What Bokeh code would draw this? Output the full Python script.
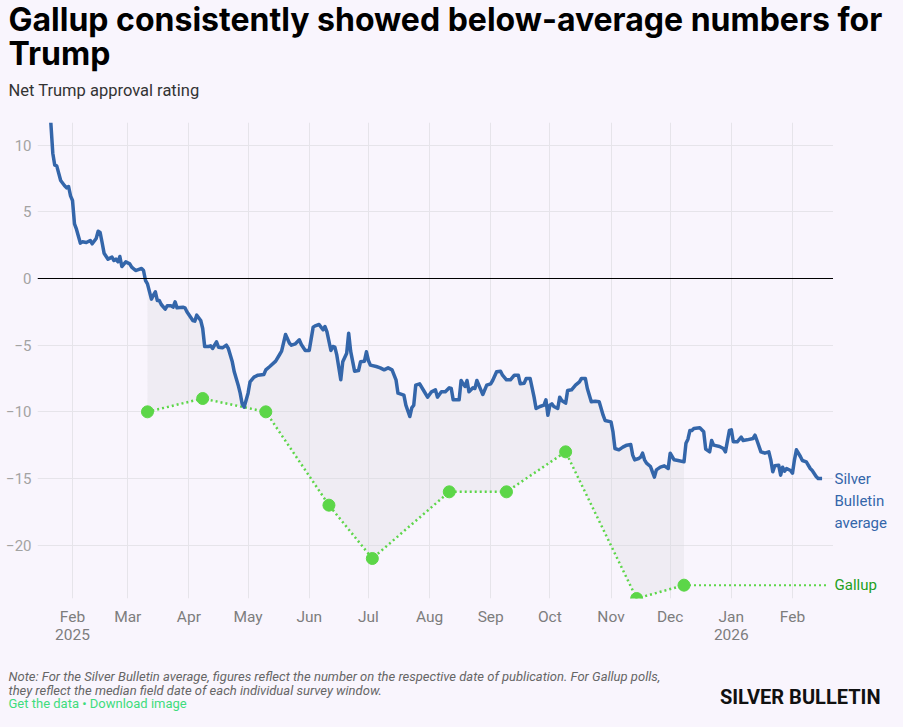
import numpy as np
import pandas as pd
from bokeh.plotting import figure
from bokeh.layouts import column, row
from bokeh.models import Range1d, FixedTicker, Span
from bokeh.core.properties import value
from bokeh.embed import file_html
from bokeh.resources import INLINE

# ---------------- text ----------------
title_lines = ["Gallup consistently showed below-average numbers for", "Trump"]
subtitle = "Net Trump approval rating"
note_lines = [
    "Note: For the Silver Bulletin average, figures reflect the number on the respective date of publication. For Gallup polls,",
    "they reflect the median field date of each individual survey window.",
]
links_text = "Get the data \u2022 Download image"
logo_text = "SILVER BULLETIN"
sb_label_lines = ["Silver", "Bulletin", "average"]
gallup_label = "Gallup"

# ---------------- data ----------------
sb_dates = [
    "2025-01-21", "2025-01-22", "2025-01-23", "2025-01-24", "2025-01-26", "2025-01-28", "2025-01-29",
    "2025-01-30", "2025-01-31", "2025-02-01", "2025-02-02", "2025-02-03", "2025-02-05", "2025-02-06",
    "2025-02-08", "2025-02-10", "2025-02-11", "2025-02-13", "2025-02-14", "2025-02-15", "2025-02-16",
    "2025-02-17", "2025-02-19", "2025-02-21", "2025-02-22", "2025-02-23", "2025-02-24", "2025-02-25",
    "2025-02-26", "2025-02-28", "2025-03-02", "2025-03-03", "2025-03-05", "2025-03-06", "2025-03-08",
    "2025-03-09", "2025-03-10", "2025-03-11", "2025-03-13", "2025-03-14", "2025-03-15", "2025-03-16",
    "2025-03-17", "2025-03-18", "2025-03-20", "2025-03-21", "2025-03-23", "2025-03-24", "2025-03-25",
    "2025-03-26", "2025-03-29", "2025-03-30", "2025-03-31", "2025-04-03", "2025-04-04", "2025-04-05",
    "2025-04-07", "2025-04-08", "2025-04-09", "2025-04-11", "2025-04-12", "2025-04-13", "2025-04-15",
    "2025-04-16", "2025-04-18", "2025-04-20", "2025-04-21", "2025-04-23", "2025-04-24", "2025-04-25",
    "2025-04-26", "2025-04-27", "2025-04-28", "2025-04-29", "2025-05-01", "2025-05-02", "2025-05-04",
    "2025-05-06", "2025-05-09", "2025-05-10", "2025-05-12", "2025-05-15", "2025-05-17", "2025-05-18",
    "2025-05-20", "2025-05-22", "2025-05-23", "2025-05-25", "2025-05-27", "2025-05-28", "2025-05-30",
    "2025-06-01", "2025-06-03", "2025-06-04", "2025-06-06", "2025-06-08", "2025-06-09", "2025-06-10",
    "2025-06-12", "2025-06-13", "2025-06-14", "2025-06-15", "2025-06-17", "2025-06-18", "2025-06-20",
    "2025-06-21", "2025-06-22", "2025-06-24", "2025-06-26", "2025-06-27", "2025-06-29", "2025-06-30",
    "2025-07-01", "2025-07-02", "2025-07-05", "2025-07-07", "2025-07-09", "2025-07-11", "2025-07-13",
    "2025-07-15", "2025-07-16", "2025-07-19", "2025-07-20", "2025-07-22", "2025-07-23", "2025-07-24",
    "2025-07-25", "2025-07-27", "2025-07-29", "2025-07-31", "2025-08-02", "2025-08-04", "2025-08-05",
    "2025-08-07", "2025-08-09", "2025-08-11", "2025-08-12", "2025-08-13", "2025-08-16", "2025-08-17",
    "2025-08-18", "2025-08-19", "2025-08-20", "2025-08-21", "2025-08-23", "2025-08-24", "2025-08-25",
    "2025-08-27", "2025-08-28", "2025-08-30", "2025-09-01", "2025-09-02", "2025-09-04", "2025-09-06",
    "2025-09-07", "2025-09-09", "2025-09-11", "2025-09-13", "2025-09-15", "2025-09-16", "2025-09-18",
    "2025-09-19", "2025-09-21", "2025-09-23", "2025-09-24", "2025-09-26", "2025-09-28", "2025-09-29",
    "2025-09-30", "2025-10-01", "2025-10-02", "2025-10-03", "2025-10-05", "2025-10-06", "2025-10-07",
    "2025-10-09", "2025-10-10", "2025-10-12", "2025-10-14", "2025-10-16", "2025-10-17", "2025-10-19",
    "2025-10-20", "2025-10-22", "2025-10-24", "2025-10-26", "2025-10-28", "2025-10-29", "2025-11-01",
    "2025-11-02", "2025-11-03", "2025-11-05", "2025-11-07", "2025-11-09", "2025-11-11", "2025-11-12",
    "2025-11-13", "2025-11-15", "2025-11-16", "2025-11-17", "2025-11-18", "2025-11-19", "2025-11-21",
    "2025-11-22", "2025-11-23", "2025-11-24", "2025-11-26", "2025-11-28", "2025-11-30", "2025-12-01",
    "2025-12-03", "2025-12-05", "2025-12-08", "2025-12-09", "2025-12-10", "2025-12-11", "2025-12-12",
    "2025-12-13", "2025-12-16", "2025-12-18", "2025-12-19", "2025-12-21", "2025-12-22", "2025-12-23",
    "2025-12-26", "2025-12-28", "2025-12-29", "2025-12-31", "2026-01-01", "2026-01-02", "2026-01-04",
    "2026-01-06", "2026-01-07", "2026-01-09", "2026-01-12", "2026-01-13", "2026-01-14", "2026-01-16",
    "2026-01-18", "2026-01-20", "2026-01-21", "2026-01-22", "2026-01-23", "2026-01-25", "2026-01-26",
    "2026-01-27", "2026-01-28", "2026-01-29", "2026-01-31", "2026-02-01", "2026-02-02", "2026-02-03",
    "2026-02-05", "2026-02-06", "2026-02-08", "2026-02-10", "2026-02-11", "2026-02-13", "2026-02-14",
    "2026-02-16",
]
sb_values = [
    11.7, 9.4, 8.5, 8.45, 7.35, 6.95, 6.8,
    6.9, 6.2, 5.85, 4.1, 3.7, 2.65, 2.75,
    2.7, 2.85, 2.6, 3.0, 3.55, 3.45, 2.7,
    1.9, 1.45, 1.6, 1.35, 1.45, 1.25, 1.65,
    0.9, 1.25, 1.1, 0.85, 0.6, 0.65, 0.75,
    0.6, -0.15, -0.4, -1.55, -1.25, -1.0, -1.65,
    -1.65, -1.95, -2.3, -2.05, -2.05, -2.15, -1.75,
    -2.2, -2.15, -2.2, -2.5, -3.15, -3.2, -2.75,
    -3.15, -3.75, -5.1, -5.1, -5.05, -5.25, -4.75,
    -5.15, -5.2, -5.0, -5.25, -6.25, -7.0, -7.5,
    -8.0, -8.6, -9.4, -9.65, -8.6, -7.75, -7.4,
    -7.25, -7.2, -6.85, -6.6, -6.2, -5.7, -5.45,
    -4.2, -4.85, -5.0, -4.9, -4.6, -4.95, -5.4,
    -5.4, -3.65, -3.55, -3.45, -3.85, -3.6, -4.0,
    -5.4, -5.1, -5.15, -5.75, -7.6, -6.25, -5.6,
    -4.1, -5.45, -6.95, -6.9, -6.25, -6.2, -5.5,
    -6.15, -6.5, -6.6, -6.7, -6.85, -6.7, -6.85,
    -7.6, -8.6, -8.75, -9.5, -10.35, -9.7, -9.5,
    -8.0, -7.9, -8.4, -8.9, -8.5, -8.35, -8.9,
    -8.5, -8.5, -8.2, -8.25, -9.1, -9.1, -7.65,
    -7.9, -8.1, -7.65, -8.5, -8.2, -8.25, -7.65,
    -8.35, -8.7, -8.0, -7.9, -7.65, -7.0, -6.95,
    -7.25, -7.6, -7.6, -7.25, -7.25, -7.9, -7.85,
    -7.5, -7.5, -8.9, -9.75, -9.6, -9.5, -9.1,
    -10.25, -9.5, -9.4, -9.6, -9.75, -8.9, -9.15,
    -9.35, -8.4, -8.35, -8.0, -7.75, -7.5, -7.5,
    -8.25, -9.25, -9.2, -9.25, -10.25, -10.65, -10.75,
    -11.5, -12.75, -12.85, -12.65, -12.5, -12.45, -13.25,
    -13.6, -13.5, -13.4, -13.1, -13.6, -13.85, -14.1,
    -14.5, -14.9, -14.35, -14.15, -14.05, -14.25, -13.1,
    -13.6, -13.65, -13.75, -12.35, -12.05, -11.4, -11.4,
    -11.25, -11.2, -11.5, -12.8, -13.0, -12.15, -12.5,
    -12.6, -12.75, -13.0, -11.4, -11.35, -12.25, -12.25,
    -11.9, -12.15, -12.1, -12.0, -11.75, -12.15, -13.0,
    -13.1, -13.0, -13.6, -14.5, -14.05, -14.0, -14.75,
    -14.15, -14.45, -14.25, -14.4, -14.6, -13.6, -12.85,
    -13.35, -13.65, -13.75, -14.25, -14.4, -14.85, -15.0,
    -15.0,
]
gallup_dates = ["2025-03-11", "2025-04-08", "2025-05-10", "2025-06-11", "2025-07-03",
                "2025-08-11", "2025-09-09", "2025-10-09", "2025-11-14", "2025-12-08"]
gallup_values = [-10, -9, -10, -17, -21, -16, -16, -13, -24, -23]
gallup_line_end = "2026-02-18"

month_ticks = ["2025-02-01", "2025-03-01", "2025-04-01", "2025-05-01", "2025-06-01", "2025-07-01",
               "2025-08-01", "2025-09-01", "2025-10-01", "2025-11-01", "2025-12-01", "2026-01-01",
               "2026-02-01"]
month_labels = ["Feb\n2025", "Mar", "Apr", "May", "Jun", "Jul", "Aug", "Sep", "Oct", "Nov", "Dec",
                "Jan\n2026", "Feb"]
y_ticks = [-20, -15, -10, -5, 0, 5, 10]
x_start, x_end = "2025-01-14 06:00", "2026-02-21 19:00"
y_min, y_max = -24, 11.7

# ---------------- style ----------------
BG = "#f9f5fd"
GRID = "#e6e4ea"
BLUE = "#3466aa"
GREEN = "#5cd648"
GREEN_TXT = "#22a022"
LINK = "#3fdc7c"
FONT = "Roboto"
W = 887
HEAD_H, MAIN_H = 114, 540
FOOT_H = 711 - HEAD_H - MAIN_H


def to_ms(dates):
    return pd.to_datetime(dates).values.astype("datetime64[ms]").astype(np.int64)


def blank(width, height, **kw):
    f = figure(width=width, height=height, toolbar_location=None, output_backend="svg",
               x_axis_type=None, y_axis_type=None, background_fill_color=BG,
               border_fill_color=BG, outline_line_color=None, min_border=0, **kw)
    f.grid.visible = False
    return f


sb_x = to_ms(sb_dates)
g_x = to_ms(gallup_dates)
tick_ms = [int(v) for v in to_ms(month_ticks)]

# ---------------- header ----------------
head = blank(W, HEAD_H, x_range=Range1d(0, W), y_range=Range1d(HEAD_H, 0))
head.text(x=[8, 8], y=[18.5, 52.5], text=title_lines, text_font=value("Inter"),
          text_font_style="bold", text_font_size=value("32px"), text_color="black",
          text_baseline="alphabetic")
head.text(x=[8], y=[90], text=[subtitle], text_font=value(FONT),
          text_font_size=value("16.5px"), text_color="#333333", text_baseline="alphabetic")

# ---------------- main plot ----------------
y_range = Range1d(y_min, y_max)
p = figure(width=833, height=MAIN_H, x_axis_type="datetime", output_backend="svg",
           toolbar_location=None,
           x_range=Range1d(pd.Timestamp(x_start), pd.Timestamp(x_end)), y_range=y_range,
           min_border_left=37, min_border_right=0, min_border_top=8, min_border_bottom=56,
           background_fill_color=BG, border_fill_color=BG, outline_line_color=None)

p.xaxis.ticker = FixedTicker(ticks=tick_ms)
p.xaxis.major_label_overrides = dict(zip(tick_ms, month_labels))
p.yaxis.ticker = FixedTicker(ticks=y_ticks)
p.yaxis.major_label_overrides = {t: str(t).replace("-", "\u2212") for t in y_ticks}
for ax in (p.xaxis[0], p.yaxis[0]):
    ax.axis_line_color = None
    ax.major_tick_line_color = None
    ax.minor_tick_line_color = None
    ax.major_tick_out = 0
    ax.major_tick_in = 0
    ax.major_label_text_font = FONT
p.xaxis.major_label_text_font_size = "15.5px"
p.yaxis.major_label_text_font_size = "15px"
p.xaxis.major_label_text_color = "#7d7d7d"
p.xaxis.major_label_standoff = 9
p.xaxis.major_label_text_line_height = 1.05
p.yaxis.major_label_text_color = "#a3a3a3"
p.yaxis.major_label_standoff = 6

p.xgrid.ticker = FixedTicker(ticks=tick_ms)
p.ygrid.ticker = FixedTicker(ticks=y_ticks)
p.xgrid.grid_line_color = GRID
p.ygrid.grid_line_color = GRID

mask = (sb_x >= g_x[0]) & (sb_x <= g_x[-1])
bx = np.union1d(sb_x[mask], g_x)
band_top = np.interp(bx, sb_x, sb_values)
band_bot = np.interp(bx, g_x, gallup_values)
p.varea(x=bx, y1=band_bot, y2=band_top, fill_color="#d6d8df", fill_alpha=0.3)

p.add_layout(Span(location=0, dimension="width", line_color="black", line_width=1))

p.line(g_x, gallup_values, line_color=GREEN, line_width=2.5, line_dash="2 3")
p.line(to_ms([gallup_dates[-1], gallup_line_end]), [gallup_values[-1]] * 2,
       line_color=GREEN, line_width=2, line_dash="2 3")
p.line(sb_x, sb_values, line_color=BLUE, line_width=3.5, line_join="round")
p.scatter(g_x, gallup_values, size=12, fill_color=GREEN, line_color=GREEN)

# ---------------- right-hand labels (share the y scale) ----------------
side = blank(W - 833, MAIN_H, x_range=Range1d(0, W - 833), y_range=y_range,
             min_border_top=8, min_border_bottom=56)
side.min_border_left = 0
side.text(x=[1, 1, 1], y=[sb_values[-1]] * 3, text=sb_label_lines, y_offset=[0, 22, 44],
          text_font=value(FONT), text_font_size=value("15px"), text_color=BLUE,
          text_baseline="middle")
side.text(x=[1], y=[gallup_values[-1]], text=[gallup_label], text_font=value(FONT),
          text_font_size=value("15px"), text_color=GREEN_TXT, text_baseline="middle")

# ---------------- footer ----------------
foot = blank(W, FOOT_H, x_range=Range1d(0, W), y_range=Range1d(FOOT_H, 0))
foot.text(x=[8, 8], y=[21.5, 35.5], text=note_lines, text_font=value(FONT),
          text_font_style="italic", text_font_size=value("13px"), text_color="#666666",
          text_baseline="alphabetic")
foot.text(x=[8], y=[48.5], text=[links_text], text_font=value(FONT),
          text_font_size=value("13px"), text_color=LINK, text_baseline="alphabetic")
foot.text(x=[880], y=[42], text=[logo_text], text_font=value(FONT),
          text_font_style="bold", text_font_size=value("20px"), text_color="#111111",
          text_baseline="alphabetic", text_align="right")

layout = column(head, row(p, side), foot)

# page background in the same tint (bokeh prepends "{% extends base %}" itself)
PAGE_TEMPLATE = ("{% block preamble %}<style>html, body { background: " + BG +
                 "; }</style>{% endblock %}")

open("out.html", "w").write(file_html(layout, INLINE, template=PAGE_TEMPLATE))
